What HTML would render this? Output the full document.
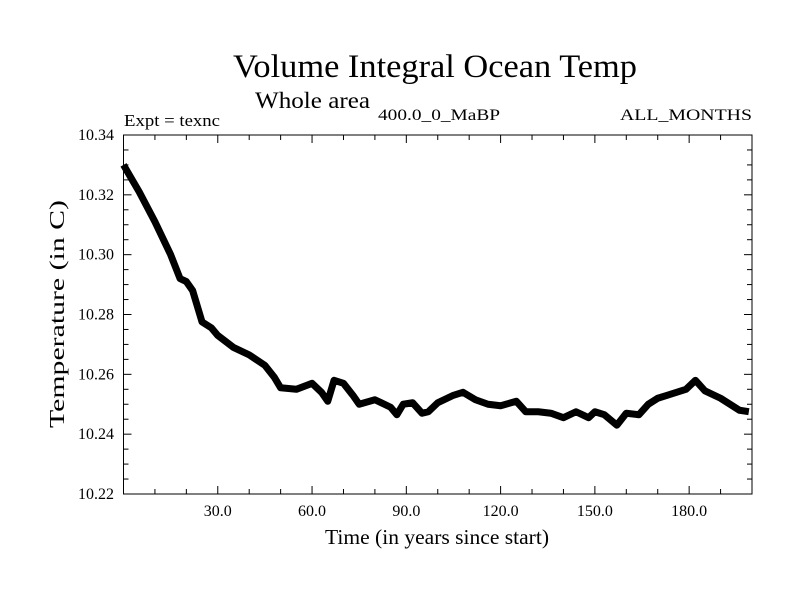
<!DOCTYPE html>
<html><head><meta charset="utf-8"><style>
html,body{margin:0;padding:0;background:#fff;}
svg{display:block;font-family:"Liberation Serif",serif;}
</style></head><body>
<svg id="chart" width="800" height="600">
<text x="435" y="77" font-size="33" text-anchor="middle" textLength="404" lengthAdjust="spacingAndGlyphs">Volume Integral Ocean Temp</text>
<text x="255" y="108" font-size="23" textLength="115" lengthAdjust="spacingAndGlyphs">Whole area</text>
<text x="124" y="126" font-size="17" textLength="96" lengthAdjust="spacingAndGlyphs">Expt = texnc</text>
<text x="378" y="120" font-size="16" textLength="122" lengthAdjust="spacingAndGlyphs">400.0_0_MaBP</text>
<text x="620" y="120" font-size="16" textLength="132" lengthAdjust="spacingAndGlyphs">ALL_MONTHS</text>
<text transform="translate(64,314) rotate(-90)" font-size="21" text-anchor="middle" textLength="228" lengthAdjust="spacingAndGlyphs">Temperature (in C)</text>
<text x="437" y="544" font-size="21" text-anchor="middle" textLength="224" lengthAdjust="spacingAndGlyphs">Time (in years since start)</text>
<g id="axes"></g>
<g id="series"></g>
<rect x="123.5" y="135" width="628.5" height="359" fill="none" stroke="#000" stroke-width="1"/>
</svg>
<script>
const years = [0,5,10,15,18,20,22,25,28,30,35,40,45,48,50,55,60,63,65,67,70,73,75,80,85,87,89,92,95,97,100,105,108,112,116,120,125,128,132,136,140,144,148,150,153,157,160,164,167,170,173,176,179,182,185,190,193,196,199];
const temps = [10.330,10.321,10.311,10.300,10.292,10.291,10.288,10.2775,10.2755,10.273,10.269,10.2665,10.263,10.259,10.2555,10.255,10.257,10.254,10.251,10.258,10.257,10.253,10.250,10.2515,10.249,10.2465,10.250,10.2505,10.247,10.2475,10.2505,10.253,10.254,10.2515,10.250,10.2495,10.251,10.2475,10.2475,10.247,10.2455,10.2475,10.2455,10.2475,10.2465,10.243,10.247,10.2465,10.250,10.252,10.253,10.254,10.255,10.258,10.2545,10.252,10.250,10.248,10.2475];
const xTickVals = [30,60,90,120,150,180];
const xTickLabels = ["30.0","60.0","90.0","120.0","150.0","180.0"];
const yTickVals = [10.22,10.24,10.26,10.28,10.30,10.32,10.34];
const yTickLabels = ["10.22","10.24","10.26","10.28","10.30","10.32","10.34"];
const X0=123.5,X1=752,Y0=494,Y1=135;
const xs=v=>X0+(v-0)/(200-0)*(X1-X0);
const ys=v=>Y0-(v-10.22)/(0.12)*(Y0-Y1);
const NS="http://www.w3.org/2000/svg";
const axes=document.getElementById('axes');
function line(x1,y1,x2,y2,name){const l=document.createElementNS(NS,'line');l.setAttribute('x1',x1);l.setAttribute('y1',y1);l.setAttribute('x2',x2);l.setAttribute('y2',y2);l.setAttribute('stroke','#000');l.setAttribute('stroke-width','1');


axes.appendChild(l);}
for(let v=10;v<200;v+=10){const x=xs(v);const len=(v%30===0)?8:5;line(x,Y0,x,Y0-len,'x-tick');line(x,Y1,x,Y1+len,'x-tick-top');}
for(let i=0;i<=24;i++){const v=10.22+i*0.005;const y=ys(v);const len=(i%4===0)?8:5;line(X0,y,X0+len,y,'y-tick');line(X1,y,X1-len,y,'y-tick-right');}
xTickVals.forEach((v,i)=>{const t=document.createElementNS(NS,'text');t.setAttribute('x',xs(v));t.setAttribute('y',516);t.setAttribute('font-size','16');t.setAttribute('text-anchor','middle');t.textContent=xTickLabels[i];


axes.appendChild(t);});
yTickVals.forEach((v,i)=>{const t=document.createElementNS(NS,'text');t.setAttribute('x',114);t.setAttribute('y',ys(v)+5);t.setAttribute('font-size','16');t.setAttribute('text-anchor','end');t.textContent=yTickLabels[i];


axes.appendChild(t);});
const p=document.createElementNS(NS,'polyline');
p.setAttribute('points',years.map((y,i)=>xs(y)+','+ys(temps[i])).join(' '));
p.setAttribute('fill','none');p.setAttribute('stroke','#000');p.setAttribute('stroke-width','7');p.setAttribute('stroke-linejoin','round');


document.getElementById('series').appendChild(p);
</script>
</body></html>
